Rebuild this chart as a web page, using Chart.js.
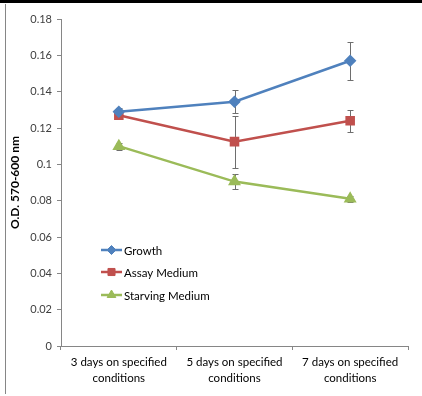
<!DOCTYPE html>
<html lang="en">
<head>
    <meta charset="UTF-8">
    <title>O.D. 570-600 nm</title>
    <style>
        body {
            margin: 0;
            padding: 0;
            background-color: #ffffff;
        }

        .frame {
            position: relative;
            width: 422px;
            height: 396px;
            overflow: hidden;
        }

        .top-bar {
            position: absolute;
            left: 0;
            top: 0;
            width: 422px;
            height: 3px;
            background-color: #000000;
        }

        .left-line {
            position: absolute;
            left: 5px;
            top: 4px;
            width: 1px;
            height: 390px;
            background-color: #868686;
        }

        canvas {
            position: absolute;
            left: 0;
            top: 0;
        }
    </style>
</head>
<body>
    <div class="frame">
        <canvas id="od-chart" width="422" height="396"></canvas>
        <div class="top-bar"></div>
        <div class="left-line"></div>
    </div>

    <script src="https://cdn.jsdelivr.net/npm/chart.js"></script>
    <script>
        // data
        const categories = [
            ['3 days on specified', 'conditions'],
            ['5 days on specified', 'conditions'],
            ['7 days on specified', 'conditions']
        ];
        const growth = [0.129, 0.1345, 0.157];
        const growthErr = [0.002, 0.0065, 0.0105];
        const assay = [0.127, 0.1125, 0.124];
        const assayErr = [0.002, 0.0143, 0.006];
        const starving = [0.110, 0.0905, 0.081];
        const starvingErr = [0.002, 0.0042, 0.0015];
        const yTicks = [0, 0.02, 0.04, 0.06, 0.08, 0.1, 0.12, 0.14, 0.16, 0.18];

        const font = 'Lato, "Open Sans", sans-serif';
        const axisGray = '#868686';
        const textGray = '#404040';

        // error bars, drawn behind the markers
        const errorBars = {
            id: 'errorBars',
            beforeDatasetsDraw(chart) {
                const ctx = chart.ctx;
                const y = chart.scales.y;
                ctx.save();
                ctx.strokeStyle = '#6e6e6e';
                ctx.lineWidth = 1;
                chart.data.datasets.forEach((ds, i) => {
                    chart.getDatasetMeta(i).data.forEach((pt, j) => {
                        const x = Math.round(pt.x) + 0.5;
                        const top = Math.round(y.getPixelForValue(ds.data[j] + ds.err[j])) + 0.5;
                        const bot = Math.round(y.getPixelForValue(ds.data[j] - ds.err[j])) + 0.5;
                        ctx.beginPath();
                        ctx.moveTo(x, top);
                        ctx.lineTo(x, bot);
                        ctx.moveTo(x - 3, top);
                        ctx.lineTo(x + 3, top);
                        ctx.moveTo(x - 3, bot);
                        ctx.lineTo(x + 3, bot);
                        ctx.stroke();
                    });
                });
                ctx.restore();
            }
        };

        // legend sits inside the plot area, lower left
        const innerLegend = {
            id: 'innerLegend',
            afterDraw(chart) {
                const ctx = chart.ctx;
                const x0 = 101, x1 = 122;
                const rows = [250, 272, 295];
                ctx.save();
                chart.data.datasets.forEach((ds, i) => {
                    const yy = rows[i];
                    ctx.strokeStyle = ds.borderColor;
                    ctx.lineWidth = 2.5;
                    ctx.beginPath();
                    ctx.moveTo(x0, yy);
                    ctx.lineTo(x1, yy);
                    ctx.stroke();
                    ctx.fillStyle = ds.borderColor;
                    ctx.lineWidth = 1;
                    Chart.helpers.drawPoint(ctx, {
                        pointStyle: ds.pointStyle,
                        radius: ds.pointRadius,
                        rotation: 0,
                        borderWidth: 1
                    }, (x0 + x1) / 2, yy);
                    ctx.fillStyle = '#000000';
                    ctx.font = '11.5px ' + font;
                    ctx.textBaseline = 'middle';
                    ctx.textAlign = 'left';
                    ctx.fillText(ds.label, x1 + 2, yy + 1);
                });
                ctx.restore();
            }
        };

        function series(label, data, err, color, style, radius) {
            return {
                label: label,
                data: data,
                err: err,
                borderColor: color,
                backgroundColor: color,
                pointBackgroundColor: color,
                pointBorderColor: color,
                borderWidth: 2.5,
                pointStyle: style,
                pointRadius: radius,
                pointHoverRadius: radius,
                tension: 0
            };
        }

        new Chart(document.getElementById('od-chart'), {
            type: 'line',
            data: {
                labels: categories,
                datasets: [
                    series('Growth', growth, growthErr, '#4F81BD', 'rectRot', 4.5),
                    series('Assay Medium', assay, assayErr, '#C0504D', 'rect', 5),
                    series('Starving Medium', starving, starvingErr, '#9BBB59', 'triangle', 5)
                ]
            },
            options: {
                responsive: false,
                animation: false,
                events: [],
                layout: {
                    padding: { top: 19, right: 14, bottom: 0, left: 0 }
                },
                plugins: {
                    legend: { display: false },
                    tooltip: { enabled: false }
                },
                scales: {
                    x: {
                        type: 'category',
                        offset: true,
                        grid: {
                            offset: true,
                            drawOnChartArea: false,
                            color: axisGray,
                            tickLength: 4
                        },
                        border: { color: axisGray },
                        ticks: {
                            color: '#000000',
                            font: { family: font, size: 11.5, lineHeight: 1.4 },
                            padding: 4,
                            maxRotation: 0
                        },
                        afterFit(scale) { scale.height = 50; }
                    },
                    y: {
                        min: 0,
                        max: 0.18,
                        afterBuildTicks(scale) {
                            scale.ticks = yTicks.map(v => ({ value: v }));
                        },
                        grid: {
                            drawOnChartArea: false,
                            color: axisGray,
                            tickLength: 4
                        },
                        border: { color: axisGray },
                        ticks: {
                            color: textGray,
                            font: { family: font, size: 11 },
                            padding: 5,
                            callback: v => String(Number(v.toFixed(2)))
                        },
                        title: {
                            display: true,
                            text: 'O.D. 570-600 nm',
                            color: '#000000',
                            font: { family: font, size: 12, weight: 'bold' },
                            padding: { top: 8, bottom: 0 }
                        },
                        afterFit(scale) { scale.width = 61; }
                    }
                }
            },
            plugins: [errorBars, innerLegend]
        });
    </script>
</body>
</html>
